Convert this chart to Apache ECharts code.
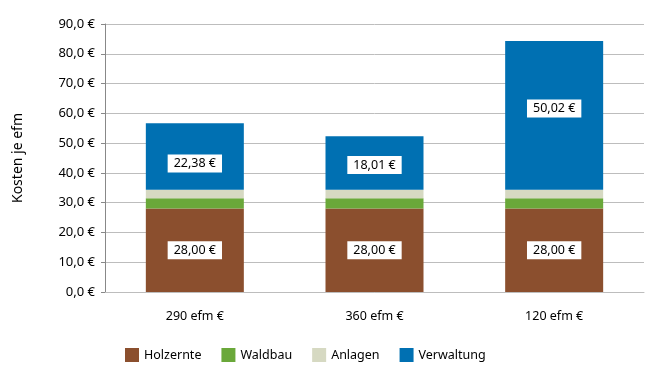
<!DOCTYPE html>
<html><head><meta charset="utf-8">
<script src="https://cdn.jsdelivr.net/npm/echarts@6/dist/echarts.min.js"></script>
<style>html,body{margin:0;padding:0;background:#fff}#c{width:660px;height:374px}</style>
</head><body><div id="c"></div>
<script>
var categories = ['290 efm €', '360 efm €', '120 efm €'];
var holzernte = [28.00, 28.00, 28.00];
var waldbau = [3.5, 3.5, 3.5];
var anlagen = [2.8, 2.8, 2.8];
var verwaltung = [22.38, 18.01, 50.02];
var yTicks = [0, 10, 20, 30, 40, 50, 60, 70, 80, 90];

// style only: vertical nudges of the Verwaltung value boxes (px)
var verwaltungLabelShift = [7, 2, -7];

var FONT = 'Noto Sans';
function fmt2(v){ return v.toFixed(2).replace('.', ',') + ' €'; }
function boxLabel(dy){
  return {
    show: true, position: 'inside', color: '#000', fontFamily: FONT, fontSize: 12.5,
    backgroundColor: '#fff', padding: [3, 6, 2, 6], offset: [0, dy || 0],
    formatter: function(p){ return fmt2(p.value); }
  };
}
var chart = echarts.init(document.getElementById('c'), null, {renderer: 'canvas'});
chart.setOption({
  animation: false,
  textStyle: {fontFamily: FONT},
  grid: {left: 105, right: 16, top: 24, bottom: 82},
  legend: {
    left: 120, top: 343, itemWidth: 14, itemHeight: 14, itemGap: 20,
    icon: 'rect',
    textStyle: {fontFamily: FONT, fontSize: 12.5, color: '#000'},
    data: ['Holzernte', 'Waldbau', 'Anlagen', 'Verwaltung']
  },
  xAxis: {
    type: 'category', data: categories,
    axisLine: {lineStyle: {color: '#bdbdbd', width: 1}},
    axisTick: {show: false},
    axisLabel: {color: '#000', fontSize: 12.5, fontFamily: FONT, margin: 18}
  },
  yAxis: {
    type: 'value', min: yTicks[0], max: yTicks[yTicks.length - 1], interval: 10,
    name: 'Kosten je efm', nameLocation: 'middle', nameGap: 80,
    nameTextStyle: {color: '#000', fontSize: 14, fontFamily: FONT},
    axisLine: {show: true, lineStyle: {color: '#888', width: 1}},
    axisTick: {show: true, length: 4, lineStyle: {color: '#888'}},
    axisLabel: {color: '#000', fontSize: 13, fontFamily: FONT, margin: 10,
      formatter: function(v){ return v.toFixed(1).replace('.', ',') + ' €'; }},
    splitLine: {lineStyle: {color: '#bdbdbd', width: 1}}
  },
  series: [
    {name: 'Holzernte', type: 'bar', stack: 's', barWidth: 98, data: holzernte,
      itemStyle: {color: '#8B4F2E'}, label: boxLabel(0)},
    {name: 'Waldbau', type: 'bar', stack: 's', data: waldbau, itemStyle: {color: '#6AA83A'}},
    {name: 'Anlagen', type: 'bar', stack: 's', data: anlagen, itemStyle: {color: '#D6D9C2'}},
    {name: 'Verwaltung', type: 'bar', stack: 's',
      data: verwaltung.map(function(v, i){ return {value: v, label: {offset: [0, verwaltungLabelShift[i]]}}; }),
      itemStyle: {color: '#0070B2'}, label: boxLabel(0)}
  ]
});
</script></body></html>
